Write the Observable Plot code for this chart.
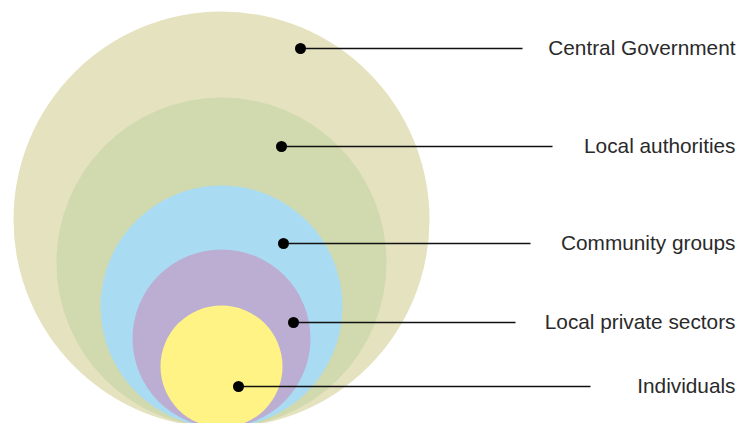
<!DOCTYPE html>
<html><head><meta charset="utf-8">
<script src="https://cdn.jsdelivr.net/npm/d3@7"></script>
<script src="https://cdn.jsdelivr.net/npm/@observablehq/plot@0.6"></script>
<style>html,body{margin:0;padding:0;overflow:hidden;background:#fff}</style>
</head><body><div id="chart"></div>
<script>
const categories = ["Central Government", "Local authorities", "Community groups", "Local private sectors", "Individuals"];
const radii = [208, 165, 121, 89, 61];
const colors = ["#e5e2bf", "#d1d9ae", "#a9dbf3", "#bcaed3", "#fff385"];
const markerX = [300, 281, 283, 293, 238];
const markerY = [48, 146, 243, 322, 386];
const lineEndX = [522, 552, 530, 515, 590];

const W = 738, H = 423;
const baseY = 427, centerX = 221, labelX = 735;

const circles = categories.map((c, i) => ({name: c, r: radii[i], x: centerX, y: baseY - radii[i], fill: colors[i]}));
const labels = categories.map((c, i) => ({name: c, x: markerX[i], y: markerY[i], x2: lineEndX[i]}));

const chart = Plot.plot({
  width: W, height: H,
  margin: 0,
  x: {domain: [0, W], range: [0, W], axis: null},
  y: {domain: [0, H], range: [0, H], axis: null},
  r: {type: "identity"},
  style: {background: "#fff", fontFamily: "'Liberation Sans', Arial, sans-serif"},
  marks: [
    Plot.dot(circles, {x: "x", y: "y", r: "r", fill: "fill", stroke: null}),
    Plot.link(labels, {x1: "x", y1: "y", x2: "x2", y2: "y", stroke: "#111", strokeWidth: 1.3}),
    Plot.dot(labels, {x: "x", y: "y", r: 5.5, fill: "#000"}),
    Plot.text(labels, {x: () => labelX, y: "y", text: "name", textAnchor: "end", fontSize: 20.8, fill: "#2a2a2a"})
  ]
});
document.getElementById("chart").appendChild(chart);
</script>
</body></html>
